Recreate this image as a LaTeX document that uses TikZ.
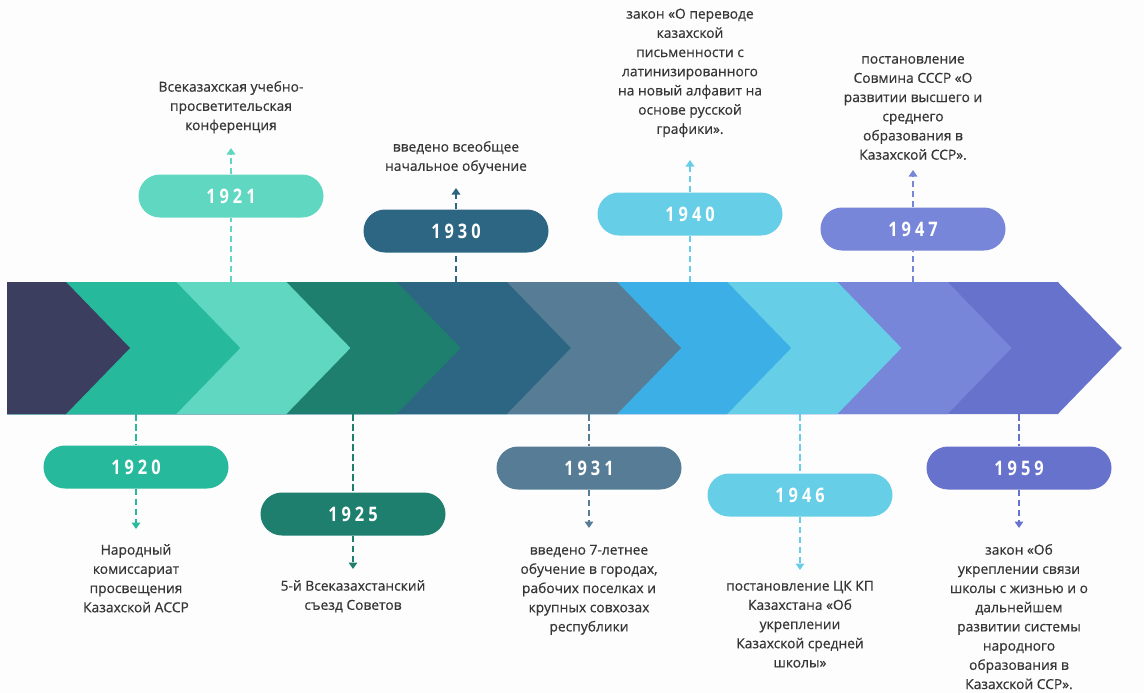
\documentclass[tikz,border=0pt]{standalone}
\usepackage{fontspec}
\setmainfont{Open Sans}
\newfontfamily\descfont[FakeBold=0.5]{Open Sans}
\newfontfamily\yearfont[FakeStretch=0.82,LetterSpace=20]{Open Sans}
\usetikzlibrary{arrows.meta}
\definecolor{bg}{HTML}{FDFDFD}
\definecolor{txt}{HTML}{363636}
\definecolor{c1}{HTML}{3B3E5F}
\definecolor{c2}{HTML}{27B99C}
\definecolor{c3}{HTML}{5FD7C1}
\definecolor{c4}{HTML}{1E7F6F}
\definecolor{c5}{HTML}{2C6682}
\definecolor{c6}{HTML}{567C96}
\definecolor{c7}{HTML}{3CB0E6}
\definecolor{c8}{HTML}{66CEE6}
\definecolor{c9}{HTML}{7786D8}
\definecolor{c10}{HTML}{6772CC}
\begin{document}
\begin{tikzpicture}[x=1pt,y=-1pt,
  pill/.style={rectangle,rounded corners=21.5pt,minimum width=185pt,minimum height=43pt,inner sep=0pt,text=white,font=\yearfont\bfseries\fontsize{20}{24}\selectfont},
  conn/.style={line width=2pt,dash pattern=on 6.5pt off 3.5pt},
  arrowend/.style={-{Triangle[width=8.5pt,length=6.5pt]}},
  desctext/.style={align=center,inner sep=0pt,anchor=north,text=txt,font=\descfont\fontsize{13.8}{19.2}\selectfont}]
\fill[bg] (0,0) rectangle (1144,693);
\useasboundingbox (0,0) rectangle (1144,693);
% chevron band
\foreach \i/\c in {10/c10,9/c9,8/c8,7/c7,6/c6,5/c5,4/c4,3/c3,2/c2,1/c1}{
  \pgfmathsetmacro\tx{130+110.2*(\i-1)}
  \fill[\c] (7,282) -- (\tx-64,282) -- (\tx,348) -- (\tx-64,414) -- (7,414) -- cycle;
}
% pills
\node[pill,fill=c3]  (p1921) at (231,196) {1921};
\node[pill,fill=c5]  (p1930) at (456,231) {1930};
\node[pill,fill=c8]  (p1940) at (690,214) {1940};
\node[pill,fill=c9]  (p1947) at (913,229) {1947};
\node[pill,fill=c2]  (p1920) at (136,467) {1920};
\node[pill,fill=c4]  (p1925) at (353,514) {1925};
\node[pill,fill=c6]  (p1931) at (589,468) {1931};
\node[pill,fill=c8]  (p1946) at (800,495) {1946};
\node[pill,fill=c10] (p1959) at (1019,468) {1959};
% band anchors and arrow ends
\coordinate (b1921) at (231,282);  \coordinate (a1921) at (231,148);
\coordinate (b1930) at (456,282);  \coordinate (a1930) at (456,188);
\coordinate (b1940) at (690,282);  \coordinate (a1940) at (690,160);
\coordinate (b1947) at (913,282);  \coordinate (a1947) at (913,170);
\coordinate (b1920) at (136,414);  \coordinate (a1920) at (136,529);
\coordinate (b1925) at (353,414);  \coordinate (a1925) at (353,569);
\coordinate (b1931) at (589,414);  \coordinate (a1931) at (589,528);
\coordinate (b1946) at (800,414);  \coordinate (a1946) at (800,570);
\coordinate (b1959) at (1019,414); \coordinate (a1959) at (1019,528);
% connectors
\foreach \y/\c in {1921/c3,1930/c5,1940/c8,1947/c9}{
  \draw[conn,\c] (b\y) -- (p\y.south);
  \draw[conn,\c,arrowend] (p\y.north) -- (a\y);
}
\foreach \y/\c in {1920/c2,1925/c4,1931/c6,1946/c8,1959/c10}{
  \draw[conn,\c] (b\y) -- (p\y.north);
  \draw[conn,\c,arrowend] (p\y.south) -- (a\y);
}
% descriptions
\node[desctext] (t1921) at (231,78) {\strut Всеказахская учебно-\\просветительская\\конференция};
\node[desctext] (t1930) at (456,138) {\strut введено всеобщее\\начальное обучение};
\node[desctext] (t1940) at (690,5) {\strut закон «О переводе\\казахской\\письменности с\\латинизированного\\на новый алфавит на\\основе русской\\графики».};
\node[desctext] (t1947) at (913,50) {\strut постановление\\Совмина СССР «О\\развитии высшего и\\среднего\\образования в\\Казахской ССР».};
\node[desctext] (t1920) at (136,541) {\strut Народный\\комиссариат\\просвещения\\Казахской АССР};
\node[desctext] (t1925) at (353,577) {\strut 5-й Всеказахстанский\\съезд Советов};
\node[desctext] (t1931) at (589,541) {\strut введено 7-летнее\\обучение в городах,\\рабочих поселках и\\крупных совхозах\\республики};
\node[desctext] (t1946) at (800,577) {\strut постановление ЦК КП\\Казахстана «Об\\укреплении\\Казахской средней\\школы»};
\node[desctext] (t1959) at (1019,541) {\strut закон «Об\\укреплении связи\\школы с жизнью и о\\дальнейшем\\развитии системы\\народного\\образования в\\Казахской ССР».};
\end{tikzpicture}
\end{document}
